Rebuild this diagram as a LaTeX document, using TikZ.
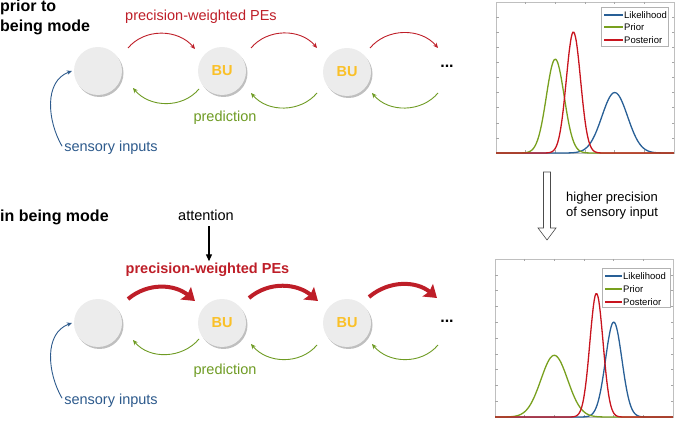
\documentclass[tikz,border=0pt]{standalone}
\usepackage{fontspec}
\setmainfont{Liberation Sans}
\usetikzlibrary{arrows.meta,positioning,calc,shadows}
\definecolor{pered}{RGB}{190,30,40}
\definecolor{predgreen}{RGB}{110,155,35}
\definecolor{sensblue}{RGB}{45,90,140}
\definecolor{buyellow}{RGB}{250,192,40}
\definecolor{unitgray}{RGB}{236,236,236}
\definecolor{likblue}{RGB}{40,95,150}
\definecolor{priorgreen}{RGB}{120,160,30}
\definecolor{postred}{RGB}{200,20,30}
\tikzset{
  bunit/.style={circle, fill=unitgray, minimum size=48pt, inner sep=0pt, drop shadow={shadow xshift=1.5pt, shadow yshift=-2pt, fill=black, opacity=0.25}, font=\fontsize{14.5}{17}\selectfont\bfseries, text=buyellow},
  lbl/.style={font=\fontsize{14.5}{17}\selectfont, inner sep=2pt, anchor=base},
  ttl/.style={font=\fontsize{16}{19}\selectfont\bfseries, inner sep=0pt, anchor=base west},
  pe/.style={-{Stealth[length=5pt,width=4.5pt]}, pered, line width=0.9pt},
  pethick/.style={-{Stealth[length=12pt,width=16pt,inset=2pt]}, pered, line width=4pt},
  pred/.style={-{Stealth[length=5pt,width=4.5pt]}, predgreen, line width=0.9pt},
  sens/.style={-{Stealth[length=5pt,width=4.5pt]}, sensblue, line width=0.9pt},
  attn/.style={-{Triangle[length=7pt,width=6pt]}, line width=1.2pt},
  plotframe/.style={draw=black!25, line width=0.5pt},
  plottick/.style={black!35, line width=0.4pt},
  gauss/.style={line width=1.3pt, domain=0:1, samples=200},
  legframe/.style={draw=black!30, fill=white, line width=0.5pt},
  legtxt/.style={font=\fontsize{9.5}{11}\selectfont, anchor=west, inner sep=0pt},
}

\begin{document}
\begin{tikzpicture}[x=1pt,y=1pt]
\useasboundingbox (0,0) rectangle (679,420);

% titles
\node[ttl] (t1) at (0,408) {prior to};
\node[ttl] (t2) at (0,388) {being mode};
\node[ttl] (t3) at (0,198) {in being mode};

% upper hierarchy
\node[bunit] (p1) at (98,349) {};
\node[bunit] (p2) at (222,349) {BU};
\node[bunit] (p3) at (347,348) {BU};
\node[font=\fontsize{16}{19}\selectfont\bfseries] (dA) at (447,354) {...};
\node[lbl, text=pered] (peA) at (201,399) {precision-weighted PEs};
\node[lbl, text=predgreen] (prA) at (225,298) {prediction};
\node[lbl, text=sensblue] (sA) at (111,268) {sensory inputs};
\draw[pe] ([shift={(30,23)}]p1.center) to[out=50,in=130] ([shift={(-27,22)}]p2.center);
\draw[pe] ([shift={(29,23)}]p2.center) to[out=50,in=130] ([shift={(-30,24)}]p3.center);
\draw[pe] ([shift={(23,24)}]p3.center) to[out=50,in=130] ([shift={(-9,18)}]dA.center);
\draw[pred] ([shift={(-23,-18)}]p2.center) to[out=230,in=310] ([shift={(35,-17)}]p1.center);
\draw[pred] ([shift={(-30,-21)}]p3.center) to[out=230,in=310] ([shift={(29,-22)}]p2.center);
\draw[pred] ([shift={(-9,-27)}]dA.center) to[out=230,in=310] ([shift={(25,-21)}]p3.center);
\draw[sens] ([yshift=2pt]sA.west) to[out=120,in=200] ([xshift=-2pt]p1.west);

% lower hierarchy
\node[bunit] (q1) at (98,97) {};
\node[bunit] (q2) at (222,97) {BU};
\node[bunit] (q3) at (347,97) {BU};
\node[font=\fontsize{16}{19}\selectfont\bfseries] (dB) at (447,99) {...};
\node[lbl] (att) at (206,199) {attention};
\node[lbl, text=pered, font=\fontsize{14.5}{17}\selectfont\bfseries] (peB) at (207.5,146) {precision-weighted PEs};
\node[lbl, text=predgreen] (prB) at (225,46) {prediction};
\node[lbl, text=sensblue] (sB) at (111,16) {sensory inputs};
\draw[attn] ([xshift=3pt,yshift=-3pt]att.south) -- ([xshift=3pt]att.south |- peB.north);
\draw[pethick] ([shift={(30,24)}]q1.center) to[out=40,in=140] ([shift={(-27,22)}]q2.center);
\draw[pethick] ([shift={(27,25)}]q2.center) to[out=40,in=140] ([shift={(-29,22)}]q3.center);
\draw[pethick] ([shift={(22,26)}]q3.center) to[out=40,in=140] ([shift={(-10,23)}]dB.center);
\draw[pred] ([shift={(-23,-16)}]q2.center) to[out=230,in=310] ([shift={(35,-17)}]q1.center);
\draw[pred] ([shift={(-30,-22)}]q3.center) to[out=230,in=310] ([shift={(29,-21)}]q2.center);
\draw[pred] ([shift={(-9,-24)}]dB.center) to[out=230,in=310] ([shift={(25,-21)}]q3.center);
\draw[sens] ([yshift=2pt]sB.west) to[out=120,in=200] ([xshift=-2pt]q1.west);

% hollow arrow between the plots
\draw[black!70, line width=0.6pt, fill=white] (543.5,248) -- (550.5,248) -- (550.5,192) -- (556,192)
  -- (547,180) -- (538,192) -- (543.5,192) -- cycle;
\node[lbl, font=\fontsize{13}{15}\selectfont, align=left, anchor=west] (hp) at (564,214.5) {higher precision\\of sensory input};

% upper plot
\begin{scope}[shift={(496,267)}, x=178pt, y=151pt]
\draw[plotframe] (0,0) rectangle (1,1);
\foreach \i in {1,...,5} {
  \draw[plottick] (\i/6,0) -- ++(0,2.5pt);
  \draw[plottick] (\i/6,1) -- ++(0,-2.5pt);
}
\foreach \i in {1,...,9} {
  \draw[plottick] (0,\i/10) -- ++(2.5pt,0);
  \draw[plottick] (1,\i/10) -- ++(-2.5pt,0);
}
\draw[gauss, likblue] plot (\x,{0.40*exp(-((\x-0.667)^2)/0.010368)});
\draw[gauss, priorgreen] plot (\x,{0.62*exp(-((\x-0.333)^2)/0.005)});
\draw[gauss, postred] plot (\x,{0.80*exp(-((\x-0.435)^2)/0.0032)});
\end{scope}
\draw[legframe] (601,374) rectangle (668,413);
\draw[likblue, line width=1.3pt] (604,405) -- (623,405);
\draw[priorgreen, line width=1.3pt] (604,393) -- (623,393);
\draw[postred, line width=1.3pt] (604,380) -- (623,380);
\node[legtxt] (lA1) at (624,405) {Likelihood};
\node[legtxt] (lA2) at (624,393) {Prior};
\node[legtxt] (lA3) at (624,380) {Posterior};

% lower plot
\begin{scope}[shift={(495,3)}, x=178pt, y=158pt]
\draw[plotframe] (0,0) rectangle (1,1);
\foreach \i in {1,...,5} {
  \draw[plottick] (\i/6,0) -- ++(0,2.5pt);
  \draw[plottick] (\i/6,1) -- ++(0,-2.5pt);
}
\foreach \i in {1,...,9} {
  \draw[plottick] (0,\i/10) -- ++(2.5pt,0);
  \draw[plottick] (1,\i/10) -- ++(-2.5pt,0);
}
\draw[gauss, likblue] plot (\x,{0.60*exp(-((\x-0.667)^2)/0.004232)});
\draw[gauss, priorgreen] plot (\x,{0.39*exp(-((\x-0.333)^2)/0.01125)});
\draw[gauss, postred] plot (\x,{0.78*exp(-((\x-0.57)^2)/0.002738)});
\end{scope}
\draw[legframe] (602,113) rectangle (670,152);
\draw[likblue, line width=1.3pt] (605,144) -- (622,144);
\draw[priorgreen, line width=1.3pt] (605,131) -- (622,131);
\draw[postred, line width=1.3pt] (605,118) -- (622,118);
\node[legtxt] (lB1) at (623,144) {Likelihood};
\node[legtxt] (lB2) at (623,131) {Prior};
\node[legtxt] (lB3) at (623,118) {Posterior};
\end{tikzpicture}
\end{document}
